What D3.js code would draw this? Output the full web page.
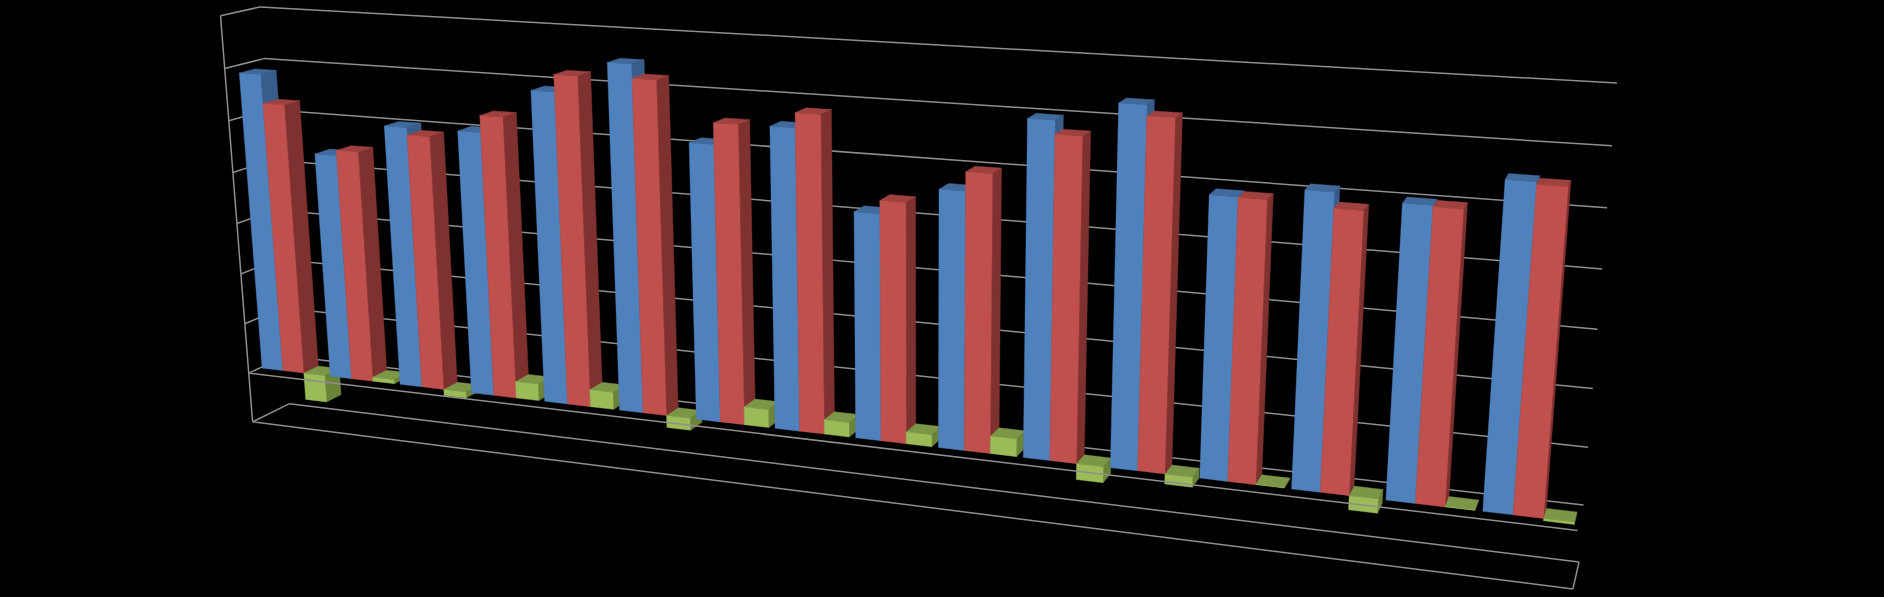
<!DOCTYPE html>
<html><head><meta charset="utf-8">
<style>html,body{margin:0;padding:0;background:#000;overflow:hidden}svg{display:block}</style>
<script src="https://cdn.jsdelivr.net/npm/d3@7"></script></head><body>
<svg id="c" width="1884" height="597"></svg>
<script>
// ---- data (axis labels are invisible, unit = one gridline step of 10)
const categories = ["1","2","3","4","5","6","7","8","9","10","11","12","13","14","15","16"];
const seriesA = [58.6,44,50.4,50.5,59,65,51.5,55.5,41.4,46.6,59.9,63.5,49.2,51.2,50.2,55.2];
const seriesB = [53,45,49,53.7,62.2,62.4,55.4,58.2,43.8,50,57.5,61.6,49.1,48.5,50,54.8];
const seriesC = [-5.4,0.8,-1.2,3.2,3.3,-2.3,3.4,2.7,2.2,3.2,-2.9,-1.8,0.1,-2.5,0.1,-0.4];
const gridValues = [-10,0,10,20,30,40,50,60,70];

// ---- styles
const faces = [
  {front:"#4F81BD",top:"#41699B",side:"#385D8A"},
  {front:"#C0504D",top:"#9E413F",side:"#7F312F"},
  {front:"#9BBB59",top:"#7C9647",side:"#6B8239"}];
const lineColor = "#8e8e8e";

// ---- projection: box corners on screen -> projective map (u, value, w) with w=0 front, w=1 back
const back = {tl:[260,7],tr:[1617,83],br:[1579,562],bl:[289.5,403.7]};
const frontAnchors = [
  {u:0,t:0,p:[253,421.5]},
  {u:1,t:0,p:[1573,589]},
  {u:0,t:1,p:[220,16]}];
function homography(p00,p10,p11,p01){ // (u,t): p00=(0,0) p10=(1,0) p11=(1,1) p01=(0,1)
  const dx1=p10[0]-p11[0],dx2=p01[0]-p11[0],sx=p00[0]-p10[0]+p11[0]-p01[0];
  const dy1=p10[1]-p11[1],dy2=p01[1]-p11[1],sy=p00[1]-p10[1]+p11[1]-p01[1];
  const den=dx1*dy2-dx2*dy1;
  const g=(sx*dy2-dx2*sy)/den,h=(dx1*sy-sx*dy1)/den;
  return {a:[p10[0]-p00[0]+g*p10[0],p10[1]-p00[1]+g*p10[1],g],
          b:[p01[0]-p00[0]+h*p01[0],p01[1]-p00[1]+h*p01[1],h],
          c:[p00[0],p00[1],1]};
}
const H = homography(back.bl,back.br,back.tr,back.tl);
function baseVec(u,t){return [0,1,2].map(i=>H.a[i]*u+H.b[i]*t+H.c[i]);}
// depth column: least squares on the front anchors
const depth = (function(){
  const A=[],B=[];
  frontAnchors.forEach(f=>{
    const X=baseVec(f.u,f.t);
    A.push([1,0,-f.p[0]]);B.push(f.p[0]*X[2]-X[0]);
    A.push([0,1,-f.p[1]]);B.push(f.p[1]*X[2]-X[1]);
  });
  const N=[0,1,2].map(i=>[0,1,2].map(j=>d3.sum(A,r=>r[i]*r[j])));
  const R=[0,1,2].map(i=>d3.sum(A,(r,k)=>r[i]*B[k]));
  const det=m=>m[0][0]*(m[1][1]*m[2][2]-m[1][2]*m[2][1])-m[0][1]*(m[1][0]*m[2][2]-m[1][2]*m[2][0])+m[0][2]*(m[1][0]*m[2][1]-m[1][1]*m[2][0]);
  const D=det(N);
  return [0,1,2].map(c=>det(N.map((row,i)=>row.map((v,j)=>j===c?R[i]:v)))/D);
})();

const yScale = d3.scaleLinear().domain([-10,70]).range([0,1]);
const uBand = d3.scaleBand().domain(categories).range([0,1]).paddingInner(0.06).paddingOuter(0.03);
const uSeries = d3.scaleBand().domain([0,1,2]).range([0,uBand.bandwidth()*0.98]);
const wDepth = {front:0.3,back:0.7};

function proj(u,val,w){
  const X=baseVec(u,yScale(val)), f=1-w;
  const x=X[0]+depth[0]*f,y=X[1]+depth[1]*f,z=X[2]+depth[2]*f;
  return [x/z,y/z];
}
const svg=d3.select("#c");
const line=d3.line();
const frame=svg.append("g").attr("fill","none").attr("stroke",lineColor).attr("stroke-width",1.5);
function seg(g,a,b){g.append("path").attr("d",line([a,b]));}

// back-wall and side-wall gridlines
gridValues.forEach(v=>{
  seg(frame,proj(0,v,1),proj(1,v,1));
  seg(frame,proj(0,v,0),proj(0,v,1));
});
// side-wall front edge, floor
seg(frame,proj(0,-10,0),proj(0,70,0));
seg(frame,proj(0,-10,0),proj(1,-10,0));
seg(frame,proj(1,-10,0),proj(1,-10,1));

// bars
const bars=svg.append("g");
const all=[seriesA,seriesB,seriesC];
function poly(pts,fill){
  bars.append("path").attr("d",line(pts)+"Z").attr("fill",fill).attr("stroke",fill).attr("stroke-width",0.4);
}
categories.forEach((c,i)=>{
  all.forEach((s,k)=>{
    const v=s[i],f=faces[k];
    const u0=uBand(c)+uSeries(k),u1=u0+uSeries.bandwidth();
    const hi=Math.max(v,0),lo=Math.min(v,0);
    const w0=wDepth.front,w1=wDepth.back;
    poly([proj(u1,lo,w0),proj(u1,lo,w1),proj(u1,hi,w1),proj(u1,hi,w0)],f.side);
    poly([proj(u0,hi,w0),proj(u1,hi,w0),proj(u1,hi,w1),proj(u0,hi,w1)],f.top);
    poly([proj(u0,lo,w0),proj(u1,lo,w0),proj(u1,hi,w0),proj(u0,hi,w0)],f.front);
  });
});
// category axis line at zero runs in front of the bars
const front=svg.append("g").attr("fill","none").attr("stroke",lineColor).attr("stroke-width",1.5);
seg(front,proj(0,0,0),proj(1,0,0));
</script></body></html>
